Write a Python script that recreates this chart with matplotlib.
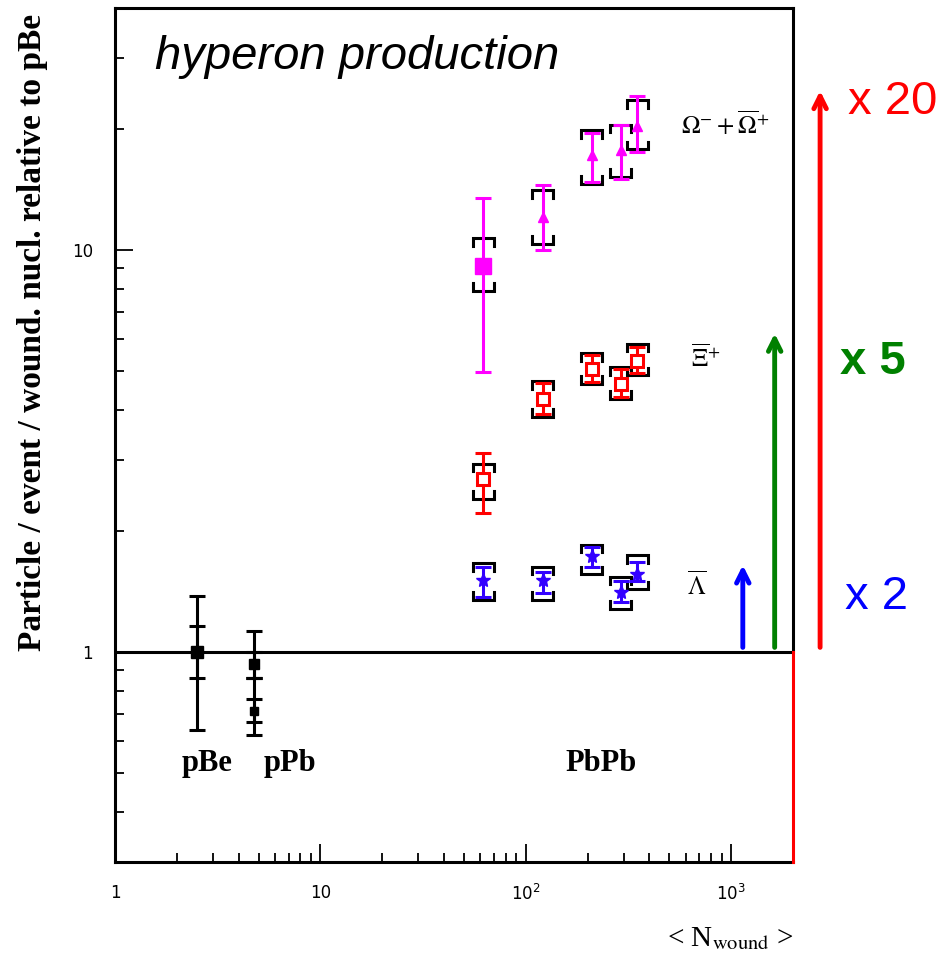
import matplotlib

matplotlib.use("Agg")
import matplotlib.pyplot as plt
import numpy as np
from matplotlib.ticker import LogLocator, NullFormatter, FixedLocator, FixedFormatter
from matplotlib.transforms import blended_transform_factory

# --- data ---
n_wound_pbpb = [62, 121, 209, 290, 349]

omega_val = [9.1, 12.1, 17.2, 17.7, 20.3]
omega_stat_lo = [4.96, 10.0, 14.8, 15.0, 17.5]
omega_stat_hi = [13.5, 14.5, 19.6, 20.5, 24.1]
omega_sys_lo = [7.92, 10.35, 14.6, 15.2, 17.8]
omega_sys_hi = [10.7, 14.1, 19.9, 20.5, 23.6]

xi_val = [2.70, 4.25, 5.05, 4.63, 5.28]
xi_stat_lo = [2.21, 3.91, 4.69, 4.30, 4.93]
xi_stat_hi = [3.13, 4.66, 5.47, 5.05, 5.75]
xi_sys_lo = [2.40, 3.84, 4.64, 4.26, 4.88]
xi_sys_hi = [2.94, 4.71, 5.53, 5.11, 5.85]

lam_val = [1.51, 1.51, 1.73, 1.41, 1.56]
lam_stat_lo = [1.37, 1.40, 1.63, 1.33, 1.50]
lam_stat_hi = [1.63, 1.58, 1.82, 1.50, 1.67]
lam_sys_lo = [1.35, 1.35, 1.56, 1.28, 1.43]
lam_sys_hi = [1.66, 1.63, 1.85, 1.54, 1.74]

# p-A reference points (pBe, pPb)
n_wound_pa = [2.5, 4.75, 4.75]
pa_val = [1.0, 0.934, 0.714]
pa_in_lo = [0.86, 0.86, 0.67]
pa_in_hi = [1.16, 1.00, 0.765]
pa_out_lo = [0.64, 0.86, 0.62]
pa_out_hi = [1.38, 1.13, 0.86]
pa_msize = [8, 7, 6]

enhancement_labels = ["x 20", "x 5", "x 2"]
enhancement_tops = [25.3, 6.3, 1.67]

MAGENTA = "#ff00ff"
RED = "#ff0000"
BLUE = "#3300ff"


def _stat(ax, x, val, lo, hi, color):
    val = np.asarray(val)
    yerr = [val - np.asarray(lo), np.asarray(hi) - val]
    ax.errorbar(x, val, yerr=yerr, fmt="none", ecolor=color, elinewidth=2.2,
                capsize=5.5, capthick=2.2, zorder=3)


def _brackets(ax, x, lo, hi):
    # systematic errors drawn as ROOT-style square brackets
    half = 1.125
    leg = 1.045
    for xi, l, h in zip(x, lo, hi):
        xl, xr = xi / half, xi * half
        ax.plot([xl, xl, xr, xr], [h / leg, h, h, h / leg], color="black", lw=2.2,
                solid_joinstyle="miter", zorder=2)
        ax.plot([xl, xl, xr, xr], [l * leg, l, l, l * leg], color="black", lw=2.2,
                solid_joinstyle="miter", zorder=2)


fig = plt.figure(figsize=(9.42, 9.59), dpi=100)
ax = fig.add_axes([0.1221, 0.1011, 0.7197, 0.8905])
ax.set_xscale("log")
ax.set_yscale("log")
ax.set_xlim(1, 2000)
ax.set_ylim(0.3, 40)

ax.axhline(1, color="black", lw=2.2, zorder=1)

# omega
_brackets(ax, n_wound_pbpb, omega_sys_lo, omega_sys_hi)
_stat(ax, n_wound_pbpb, omega_val, omega_stat_lo, omega_stat_hi, MAGENTA)
ax.plot(n_wound_pbpb[:1], omega_val[:1], "s", color=MAGENTA, ms=11, zorder=4)
ax.plot(n_wound_pbpb[1:], omega_val[1:], "^", color=MAGENTA, ms=7, zorder=4)

# xi
_brackets(ax, n_wound_pbpb, xi_sys_lo, xi_sys_hi)
_stat(ax, n_wound_pbpb, xi_val, xi_stat_lo, xi_stat_hi, RED)
ax.plot(n_wound_pbpb, xi_val, "s", mfc="white", mec=RED, mew=2.2, ms=8, zorder=4)

# lambda
_brackets(ax, n_wound_pbpb, lam_sys_lo, lam_sys_hi)
_stat(ax, n_wound_pbpb, lam_val, lam_stat_lo, lam_stat_hi, BLUE)
ax.plot(n_wound_pbpb, lam_val, "*", color=BLUE, ms=10, zorder=4)

# pBe / pPb
_stat(ax, n_wound_pa, pa_val, pa_out_lo, pa_out_hi, "black")
_stat(ax, n_wound_pa, pa_val, pa_in_lo, pa_in_hi, "black")
for xv, yv, ms in zip(n_wound_pa, pa_val, pa_msize):
    ax.plot([xv], [yv], "s", color="black", ms=ms, zorder=4)

# axes styling
for side in ("left", "bottom", "top"):
    ax.spines[side].set_linewidth(2.2)
ax.spines["right"].set_visible(False)
right_tr = blended_transform_factory(ax.transAxes, ax.transData)
ax.plot([1, 1], [1, 40], color="black", lw=2.2, transform=right_tr, clip_on=False, zorder=5)
ax.plot([1, 1], [0.3, 1], color=RED, lw=2.2, transform=right_tr, clip_on=False, zorder=5)

ax.xaxis.set_major_locator(FixedLocator([1, 10, 100, 1000]))
ax.xaxis.set_major_formatter(FixedFormatter(["1", "10", "$10^2$", "$10^3$"]))
ax.xaxis.set_minor_locator(LogLocator(base=10, subs=np.arange(2, 10)))
ax.xaxis.set_minor_formatter(NullFormatter())
ax.yaxis.set_major_locator(FixedLocator([1, 10]))
ax.yaxis.set_major_formatter(FixedFormatter(["1", "10"]))
ax.yaxis.set_minor_locator(LogLocator(base=10, subs=np.arange(2, 10)))
ax.yaxis.set_minor_formatter(NullFormatter())
ax.tick_params(which="both", direction="in", top=False, right=False, width=1.3)
ax.tick_params(which="major", length=13)
ax.tick_params(which="minor", length=6.5)
ax.tick_params(axis="x", which="major", pad=16, labelsize=12)
ax.tick_params(axis="y", which="major", pad=16, labelsize=12)

ax.set_ylabel("Particle / event / wound. nucl. relative to pBe", family="Liberation Serif",
              fontweight="bold", fontsize=24)
ax.yaxis.set_label_coords(-0.099, 0.62)
ax.text(1.0, -0.09, r"< N$_{\mathrm{wound}}$ >", transform=ax.transAxes, ha="right", va="center",
        family="Liberation Serif", fontsize=21, math_fontfamily="stix")

ax.text(0.059, 0.929, "hyperon production", transform=ax.transAxes, family="Liberation Sans",
        style="italic", fontsize=34, va="baseline")

serif_bold = dict(family="Liberation Serif", fontweight="bold", fontsize=22, ha="center", va="center")
ax.text(2.81, 0.528, "pBe", **serif_bold)
ax.text(7.14, 0.528, "pPb", **serif_bold)
ax.text(232, 0.528, "PbPb", **serif_bold)

ax.text(935, 20.5, r"$\Omega^{-}+\overline{\Omega}^{+}$", ha="center", va="center", fontsize=18,
        math_fontfamily="stix")
ax.text(750, 5.4, r"$\overline{\Xi}^{+}$", ha="center", va="center", fontsize=18,
        math_fontfamily="stix")
ax.text(680, 1.47, r"$\overline{\Lambda}$", ha="center", va="center", fontsize=18,
        math_fontfamily="stix")

# enhancement arrows, just right of / outside the frame
arrow_x = [1.04, 0.973, 0.926]
arrow_colors = [RED, "#008000", "#0000ff"]
label_pos = [(1.081, 23.4), (1.069, 5.25), (1.077, 1.37)]
label_weight = ["normal", "bold", "normal"]
label_tr = blended_transform_factory(ax.transAxes, ax.transData)
for xa, top, col, lab, (lx, ly), wt in zip(arrow_x, enhancement_tops, arrow_colors,
                                         enhancement_labels, label_pos, label_weight):
    ax.annotate("", xy=(xa, top), xytext=(xa, 1.01), xycoords=("axes fraction", "data"),
                textcoords=("axes fraction", "data"), annotation_clip=False,
                arrowprops=dict(arrowstyle="->,head_length=0.9,head_width=0.45", color=col, lw=3.5))
    ax.text(lx, ly, lab, transform=label_tr, color=col, fontsize=34, fontweight=wt,
            family="Liberation Sans", ha="left", va="center")

fig.savefig("out.png", dpi=100)
